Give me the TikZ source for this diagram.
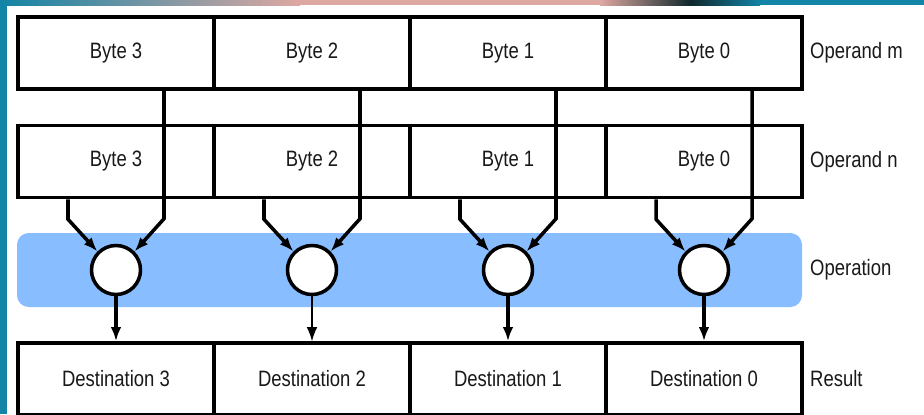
\documentclass[tikz,border=0pt]{standalone}
\usepackage{fontspec}
\setmainfont[FakeStretch=0.83]{Liberation Sans}
\usepackage{tikz}
\usetikzlibrary{arrows.meta,calc}

\definecolor{opblue}{RGB}{136,190,255}
\definecolor{slideteal}{RGB}{18,132,165}
\definecolor{slidepink}{RGB}{222,168,162}
\definecolor{slidedark}{RGB}{16,40,44}

\tikzset{
	cell/.style={draw, line width=3pt, minimum width=5.88cm, minimum height=2.16cm, inner sep=0pt, text=black!90},
	opcircle/.style={circle, draw, fill=white, line width=3pt, minimum size=1.47cm, inner sep=0pt},
	rowname/.style={anchor=west, inner sep=0pt, text=black!90},
	wire/.style={line width=3pt},
	thinwire/.style={line width=1pt}
}

\begin{document}
\begin{tikzpicture}[x=0.03cm, y=-0.03cm, >={Latex[length=12pt,width=9pt]}, font=\fontsize{19}{23}\selectfont]
	\useasboundingbox (0,0) rectangle (924,414);
	\clip (0,0) rectangle (924,414);
	% slide background along the edges
	\fill [slideteal] (0,0) rectangle (924,414);
	\fill [white] (7,5) rectangle (924,414);
	\shade [left color=slideteal, right color=slidepink] (0,0) rectangle (300,5);
	\fill [slidepink] (300,0) rectangle (600,5);
	\shade [left color=slidepink, right color=slidedark] (600,0) rectangle (690,5);
	\shade [left color=slidedark, right color=slideteal] (690,0) rectangle (760,5);
	\fill [slideteal] (760,0) rectangle (924,5);

	% operation band
	\fill [opblue, rounded corners=10] (17,233) rectangle (802,307);

	% operand m
	\node [cell] (m3) at (116,53) {Byte 3};
	\node [cell] (m2) at (312,53) {Byte 2};
	\node [cell] (m1) at (508,53) {Byte 1};
	\node [cell] (m0) at (704,53) {Byte 0};
	% operand n
	\node [cell] (n3) at (116,161.5) {Byte 3};
	\node [cell] (n2) at (312,161.5) {Byte 2};
	\node [cell] (n1) at (508,161.5) {Byte 1};
	\node [cell] (n0) at (704,161.5) {Byte 0};
	% results
	\node [cell] (d3) at (116,379) {Destination 3};
	\node [cell] (d2) at (312,379) {Destination 2};
	\node [cell] (d1) at (508,379) {Destination 1};
	\node [cell] (d0) at (704,379) {Destination 0};
	% operators
	\node [opcircle] (op3) at (116,270) {};
	\node [opcircle] (op2) at (312,270) {};
	\node [opcircle] (op1) at (508,270) {};
	\node [opcircle] (op0) at (704,270) {};

	% m lanes run down through the n row
	\draw [wire,->] ($(m3.south)+(48,0)$) -- ++(0,128) -- (op3.45);
	\draw [wire,->] ($(m2.south)+(48,0)$) -- ++(0,128) -- (op2.45);
	\draw [wire,->] ($(m1.south)+(48,0)$) -- ++(0,128) -- (op1.45);
	\draw [wire,->] ($(m0.south)+(48,0)$) -- ++(0,128) -- (op0.45);
	% n lanes
	\draw [wire,->] ($(n3.south)+(-48,0)$) -- ++(0,20) -- (op3.135);
	\draw [wire,->] ($(n2.south)+(-48,0)$) -- ++(0,20) -- (op2.135);
	\draw [wire,->] ($(n1.south)+(-48,0)$) -- ++(0,20) -- (op1.135);
	\draw [wire,->] ($(n0.south)+(-48,0)$) -- ++(0,20) -- (op0.135);
	% outputs
	\draw [wire,->] (op3) -- (d3);
	\draw [thinwire,->] (op2) -- (d2);
	\draw [wire,->] (op1) -- (d1);
	\draw [wire,->] (op0) -- (d0);

	\node [rowname] (lm) at (810,53) {Operand m};
	\node [rowname] (ln) at (810,161.5) {Operand n};
	\node [rowname] (lop) at (810,270) {Operation};
	\node [rowname] (lres) at (810,379) {Result};
\end{tikzpicture}
\end{document}
